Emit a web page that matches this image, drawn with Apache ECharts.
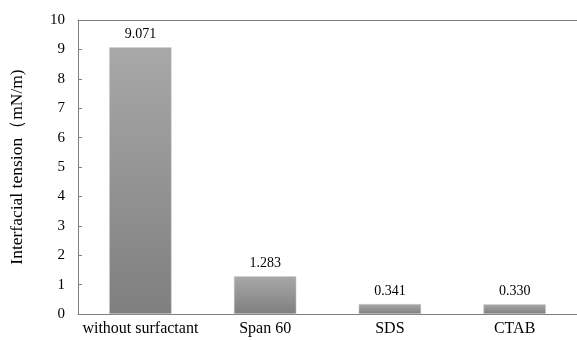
<!DOCTYPE html>
<html>
<head>
<meta charset="utf-8">
<script src="https://cdn.jsdelivr.net/npm/echarts@6/dist/echarts.min.js"></script>
<style>
  html, body { margin: 0; padding: 0; background: #fff; }
  #main { width: 577px; height: 340px; }
</style>
</head>
<body>
<div id="main"></div>
<script>
var categories = ["without surfactant", "Span 60", "SDS", "CTAB"];
var tension = [9.071, 1.283, 0.341, 0.330];
var valueLabels = ["9.071", "1.283", "0.341", "0.330"];

var font = "'Liberation Serif', 'Times New Roman', serif";

var myChart = echarts.init(document.getElementById("main"));
myChart.setOption({
    animation: false,
    textStyle: { fontFamily: font },
    grid: { left: 75, right: -1, top: 20, bottom: 26 },
    xAxis: [{
        type: "category",
        data: categories,
        axisLine: { lineStyle: { color: "#7f7f7f", width: 1 } },
        axisTick: { inside: true, alignWithLabel: true, length: 4, lineStyle: { color: "#7f7f7f" } },
        axisLabel: { interval: 0, hideOverlap: false, color: "#000", fontSize: 16, fontFamily: font, margin: 7 }
    }, {
        type: "category",
        position: "top",
        data: categories,
        axisLine: { lineStyle: { color: "#7f7f7f", width: 1 } },
        axisTick: { show: false },
        axisLabel: { show: false }
    }],
    yAxis: {
        type: "value",
        min: 0,
        max: 10,
        interval: 1,
        name: "Interfacial tension（mN/m)",
        nameLocation: "middle",
        nameGap: 52,
        nameTextStyle: { color: "#000", fontSize: 17.5, fontFamily: font },
        axisLine: { show: true, lineStyle: { color: "#7f7f7f", width: 1 } },
        axisTick: { show: true, inside: true, length: 4, lineStyle: { color: "#7f7f7f" } },
        axisLabel: { color: "#000", fontSize: 15, fontFamily: font, margin: 13 },
        splitLine: { show: false }
    },
    series: [{
        type: "bar",
        data: tension,
        barWidth: "50%",
        itemStyle: {
            color: new echarts.graphic.LinearGradient(0, 0, 0, 1, [
                { offset: 0, color: "#a8a8a8" },
                { offset: 1, color: "#7f7f7f" }
            ]),
            borderColor: "#d0d0d0",
            borderWidth: 0.5
        },
        label: {
            show: true,
            position: "top",
            distance: 6,
            color: "#000",
            fontSize: 14,
            fontFamily: font,
            formatter: function (p) { return valueLabels[p.dataIndex]; }
        }
    }]
});
</script>
</body>
</html>
